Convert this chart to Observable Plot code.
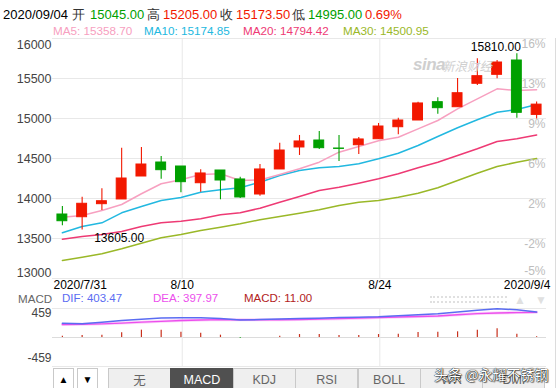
<!DOCTYPE html>
<html><head><meta charset="utf-8">
<script src="https://cdn.jsdelivr.net/npm/d3@7"></script>
<script src="https://cdn.jsdelivr.net/npm/@observablehq/plot@0.6"></script>
<style>
body{margin:0;background:#fff;font-family:"Liberation Sans",Arial,sans-serif;}
#wrap{position:relative;width:559px;height:388px;overflow:hidden;background:#fff;}
.abs{position:absolute;white-space:nowrap;}
.tab{position:absolute;top:368px;height:26px;box-sizing:border-box;border:1px solid #c9c9c9;background:#efefef;color:#666;font-size:12.5px;line-height:22px;text-align:center;}
</style></head><body><div id="wrap"></div>
<script>
// ---------- data ----------
const open  = [13800,13766,13929,13988,14275,14450,14400,14191,14350,14238,14050,14363,14638,14725,14625,14666,14741,14891,14975,15204,15141,15434,15546,15725,15045];
const high  = [13900,14016,14121,14629,14638,14525,14400,14358,14350,14266,14425,14691,14788,14838,14788,14763,14938,15004,15204,15259,15500,15746,15725,15810,15205];
const low   = [13659,13605,13850,13988,14275,14241,14071,14079,13984,14000,14029,14363,14538,14613,14463,14550,14741,14796,14975,15054,15141,15413,15496,15004,14995];
const close = [13716,13934,13966,14250,14425,14354,14204,14313,14225,14013,14363,14600,14713,14629,14620,14738,14900,14975,15188,15129,15316,15529,15700,15071,15173.5];
const ma5  = [13766,13788,13850,13925,14059,14184,14234,14300,14309,14225,14231,14300,14371,14454,14579,14650,14721,14766,14871,14975,15121,15246,15371,15350,15358.7];
const ma10 = [13571,13650,13696,13821,13900,13975,14013,14079,14109,14134,14204,14288,14350,14384,14400,14434,14496,14566,14663,14775,14884,14984,15079,15113,15174.85];
const ma20 = [13491,13525,13550,13588,13650,13696,13716,13746,13796,13821,13879,13954,14025,14100,14141,14191,14246,14309,14384,14454,14538,14621,14713,14746,14794.42];
const ma30 = [13225,13266,13309,13371,13441,13509,13550,13600,13641,13684,13734,13775,13816,13859,13913,13954,13975,14016,14066,14134,14225,14316,14400,14454,14500.95];
const dif  = [227,218,240,268,290,308,311,311,302,276,284,292,300,306,316,322,327,343,359,375,405,432,454,438,403.47];
const dea  = [206,210,216,228,243,256,269,277,283,281,281,282,285,291,298,306,316,325,333,341,360,378,387,394,397.97];
const macd = [21,32,37,74,116,116,84,69,37,-10,0,21,47,47,32,32,47,53,79,84,90,116,137,53,11];

const yTicks = [13000,13500,14000,14500,15000,15500,16000];
const pctLabels = ["-5%","-2%","2%","6%","9%","13%","16%"];
const xTickIdx = [6,16];
const xTickLabels = ["8/10","8/24"];
const xEdgeLabels = ["2020/7/31","2020/9/4"];
const macdTicks = [459,-459];

const headDate = "2020/09/04";
const headNames = ["开","高","收","低"];
const headVals = [15045.00,15205.00,15173.50,14995.00];
const headChange = "0.69%";
const maNames = ["MA5","MA10","MA20","MA30"];
const maVals = [15358.70,15174.85,14794.42,14500.95];
const macdNames = ["DIF","DEA","MACD"];
const macdVals = [403.47,397.97,11.00];
const tabNames = ["无","MACD","KDJ","RSI","BOLL","WR","DMI"];

// ---------- style ----------
const F = "'Liberation Sans', Arial, Helvetica, sans-serif";
const RED = "#f21800", GREEN = "#00a000";
const MA_COLORS = ["#f7a0c0","#22b8e0","#ee3a74","#9ab828"];
const wrap = document.getElementById("wrap");

const idx = d3.range(close.length);
const candles = idx.map(i => ({i, o: open[i], h: high[i], l: low[i], c: close[i]}));
const col = d => d.c >= d.o ? RED : GREEN;
const lowI = d3.minIndex(low), highI = d3.maxIndex(high);
const xDom = [-0.5, close.length - 0.5];
const rightTicks = yTicks.map((v, k) => ({v, t: pctLabels[k]}));
const xTicks = xTickIdx.map((v, k) => ({v, t: xTickLabels[k]}));
const maSeries = [ma5, ma10, ma20, ma30];

const main = Plot.plot({
  width: 559, height: 300, marginTop: 38, marginBottom: 22, marginLeft: 52, marginRight: 13,
  x: {type: "linear", domain: xDom, axis: null},
  y: {domain: [13000, 16000], axis: null},
  color: {type: "identity"},
  style: {fontFamily: F, background: "transparent", overflow: "visible"},
  marks: [
    Plot.ruleY(yTicks, {stroke: "#e8e8e8"}),
    Plot.ruleX(xTickIdx, {dx: 1.3, stroke: "#e8e8e8"}),
    ...[3,2,1,0].map(k => Plot.line(idx, {x: i => i, y: i => maSeries[k][i], stroke: MA_COLORS[k], strokeWidth: 1.5})),
    Plot.ruleX(candles, {x: "i", y1: "l", y2: "h", stroke: col, strokeWidth: 1.1}),
    Plot.rect(candles, {x1: d => d.i - 0.25, x2: d => d.i + 0.25, y1: d => Math.min(d.o, d.c), y2: d => Math.max(d.o, d.c), fill: col, stroke: col, strokeWidth: 1}),
    Plot.text([candles[highI]], {x: "i", y: "h", text: d => d.h.toFixed(2), textAnchor: "end", dx: 4, dy: -7, fontSize: 12, fill: "#000"}),
    Plot.text([candles[lowI]], {x: "i", y: "l", text: d => d.l.toFixed(2), textAnchor: "start", dx: 12, dy: 8.5, fontSize: 12, fill: "#000"}),
    Plot.text(yTicks.slice(1, -1), {frameAnchor: "left", y: d => d, text: d => String(d), textAnchor: "end", dx: -1, fontSize: 12.5, fill: "#444"}),
    Plot.text(yTicks.slice(-1), {frameAnchor: "left", y: d => d, text: d => String(d), textAnchor: "end", dx: -1, dy: 6, fontSize: 12.5, fill: "#444"}),
    Plot.text(yTicks.slice(0, 1), {frameAnchor: "left", y: d => d, text: d => String(d), textAnchor: "end", dx: -1, dy: -6, fontSize: 12.5, fill: "#444"}),
    Plot.text(rightTicks.slice(1), {frameAnchor: "right", y: "v", text: "t", textAnchor: "end", dx: -1, dy: 6, fontSize: 12, fill: "#bdbdbd"}),
    Plot.text(rightTicks.slice(0, 1), {frameAnchor: "right", y: "v", text: "t", textAnchor: "end", dx: -1, dy: -7, fontSize: 12, fill: "#bdbdbd"}),
    Plot.text(xTicks, {x: "v", frameAnchor: "bottom", text: "t", dx: 1.3, dy: 10, fontSize: 12, fill: "#000"}),
    Plot.text(xEdgeLabels.slice(0, 1), {x: xDom[0], frameAnchor: "bottom", text: d => d, textAnchor: "start", dx: 1, dy: 10, fontSize: 12, fill: "#000"}),
    Plot.text(xEdgeLabels.slice(1), {x: xDom[1], frameAnchor: "bottom", text: d => d, textAnchor: "end", dx: 4, dy: 10, fontSize: 12, fill: "#000"})
  ]
});
main.style.position = "absolute"; main.style.left = "0px"; main.style.top = "0px";
wrap.appendChild(main);

const macdData = idx.map(i => ({i, v: macd[i]}));
const sub = Plot.plot({
  width: 559, height: 70, marginTop: 8, marginBottom: 4, marginLeft: 52, marginRight: 13,
  x: {type: "linear", domain: xDom, axis: null},
  y: {domain: [-459, 459], axis: null},
  color: {type: "identity"},
  style: {fontFamily: F, background: "transparent", overflow: "visible"},
  marks: [
    Plot.ruleY(macdTicks, {stroke: "#e8e8e8"}),
    Plot.ruleY([0], {stroke: "#dcdcdc"}),
    Plot.ruleX(xTickIdx, {dx: 1.3, stroke: "#e8e8e8"}),
    Plot.ruleX(macdData, {x: "i", y1: 0, y2: "v", stroke: d => d.v >= 0 ? "#c8301c" : GREEN, strokeWidth: 1.2}),
    Plot.line(idx, {x: i => i, y: i => dea[i], stroke: "#f7a6f7", strokeWidth: 3, strokeOpacity: 0.5}),
    Plot.line(idx, {x: i => i, y: i => dea[i], stroke: "#ec4fec", strokeWidth: 1.4}),
    Plot.line(idx, {x: i => i, y: i => dif[i], stroke: "#5a6cf2", strokeWidth: 1.5}),
    Plot.text(macdTicks.slice(0, 1), {frameAnchor: "left", y: d => d, text: d => String(d), textAnchor: "end", dx: -1, dy: 5, fontSize: 12, fill: "#444"}),
    Plot.text(macdTicks.slice(1), {frameAnchor: "left", y: d => d, text: d => String(d), textAnchor: "end", dx: -1, dy: -8, fontSize: 12, fill: "#444"})
  ]
});
sub.style.position = "absolute"; sub.style.left = "0px"; sub.style.top = "300px";
wrap.appendChild(sub);

// ---------- HTML texts ----------
function put(text, x, y, size, color, extra) {
  const s = document.createElement("div");
  s.className = "abs";
  s.textContent = text;
  s.style.left = x + "px"; s.style.top = y + "px";
  s.style.fontSize = size + "px"; s.style.lineHeight = "15px"; s.style.color = color;
  if (extra) Object.assign(s.style, extra);
  wrap.appendChild(s);
  return s;
}
// header row
put(headDate, 3, 7, 13, "#000");
const hx = [[72, 90], [147, 163], [220, 236], [292, 308]];
const hc = [GREEN, RED, RED, GREEN];
headNames.forEach((n, k) => {
  put(n, hx[k][0], 7, 13, "#333");
  put(headVals[k].toFixed(2), hx[k][1], 7, 13, hc[k]);
});
put(headChange, 365, 7, 13, RED);
// MA legend
const mx = [53, 144, 243, 343];
maNames.forEach((n, k) => put(n + ": " + maVals[k].toFixed(2), mx[k], 23, 11.7, MA_COLORS[k]));
// MACD legend
put("MACD", 18, 292, 11.6, "#666", {lineHeight: "13px"});
const mcx = [62, 153, 244];
const mcc = ["#5a6cf2", "#ec4fec", "#b22222"];
macdNames.forEach((n, k) => put(n + ": " + macdVals[k].toFixed(2), mcx[k], 292, 11.5, mcc[k], {lineHeight: "13px"}));
// dotted scroller & arrows
const dots = document.createElement("div");
dots.className = "abs";
Object.assign(dots.style, {left: "430px", top: "296px", width: "77px", height: "3px", borderTop: "2px dotted #e0e0e0", borderBottom: "2px dotted #e0e0e0"});
wrap.appendChild(dots);
put("▲", 514, 293, 12, "#e0e0e0");
put("▼", 535, 293, 12, "#e0e0e0");
// sina watermark
put("sina", 413, 57, 17, "#cfcfcf", {fontWeight: "bold", fontStyle: "italic", letterSpacing: "-0.5px"});
put("新浪财经", 442, 58, 12.5, "#cfcfcf", {fontStyle: "italic", fontFamily: "'Noto Sans CJK SC', sans-serif"});
// right border
const rb = document.createElement("div");
rb.className = "abs";
Object.assign(rb.style, {left: "555px", top: "38px", width: "1px", height: "350px", background: "#dcdcdc"});
wrap.appendChild(rb);
// tabs
[[53, 21, "▲"], [77, 21, "▼"]].forEach(([x, w, t]) => {
  const b = document.createElement("div");
  b.className = "tab"; b.textContent = t;
  Object.assign(b.style, {left: x + "px", width: w + "px", background: "#fff", color: "#000", fontSize: "10px"});
  wrap.appendChild(b);
});
tabNames.forEach((t, k) => {
  const b = document.createElement("div");
  b.className = "tab"; b.textContent = t;
  const x = 108 + k * 62.4;
  Object.assign(b.style, {left: x + "px", width: "63px"});
  if (t === "MACD") Object.assign(b.style, {background: "#505050", color: "#fff", borderColor: "#505050"});
  if (t === "无") b.style.fontFamily = "'Noto Sans CJK SC', sans-serif";
  wrap.appendChild(b);
});
// toutiao watermark
put("头条 @永耀不锈钢", 434, 366, 14, "#fff", {fontFamily: "'Noto Sans CJK SC', sans-serif", lineHeight: "17px", textShadow: "0 0 1px #000, 0 0 1px #000, 1px 1px 1px rgba(0,0,0,0.5)"});
</script></body></html>
